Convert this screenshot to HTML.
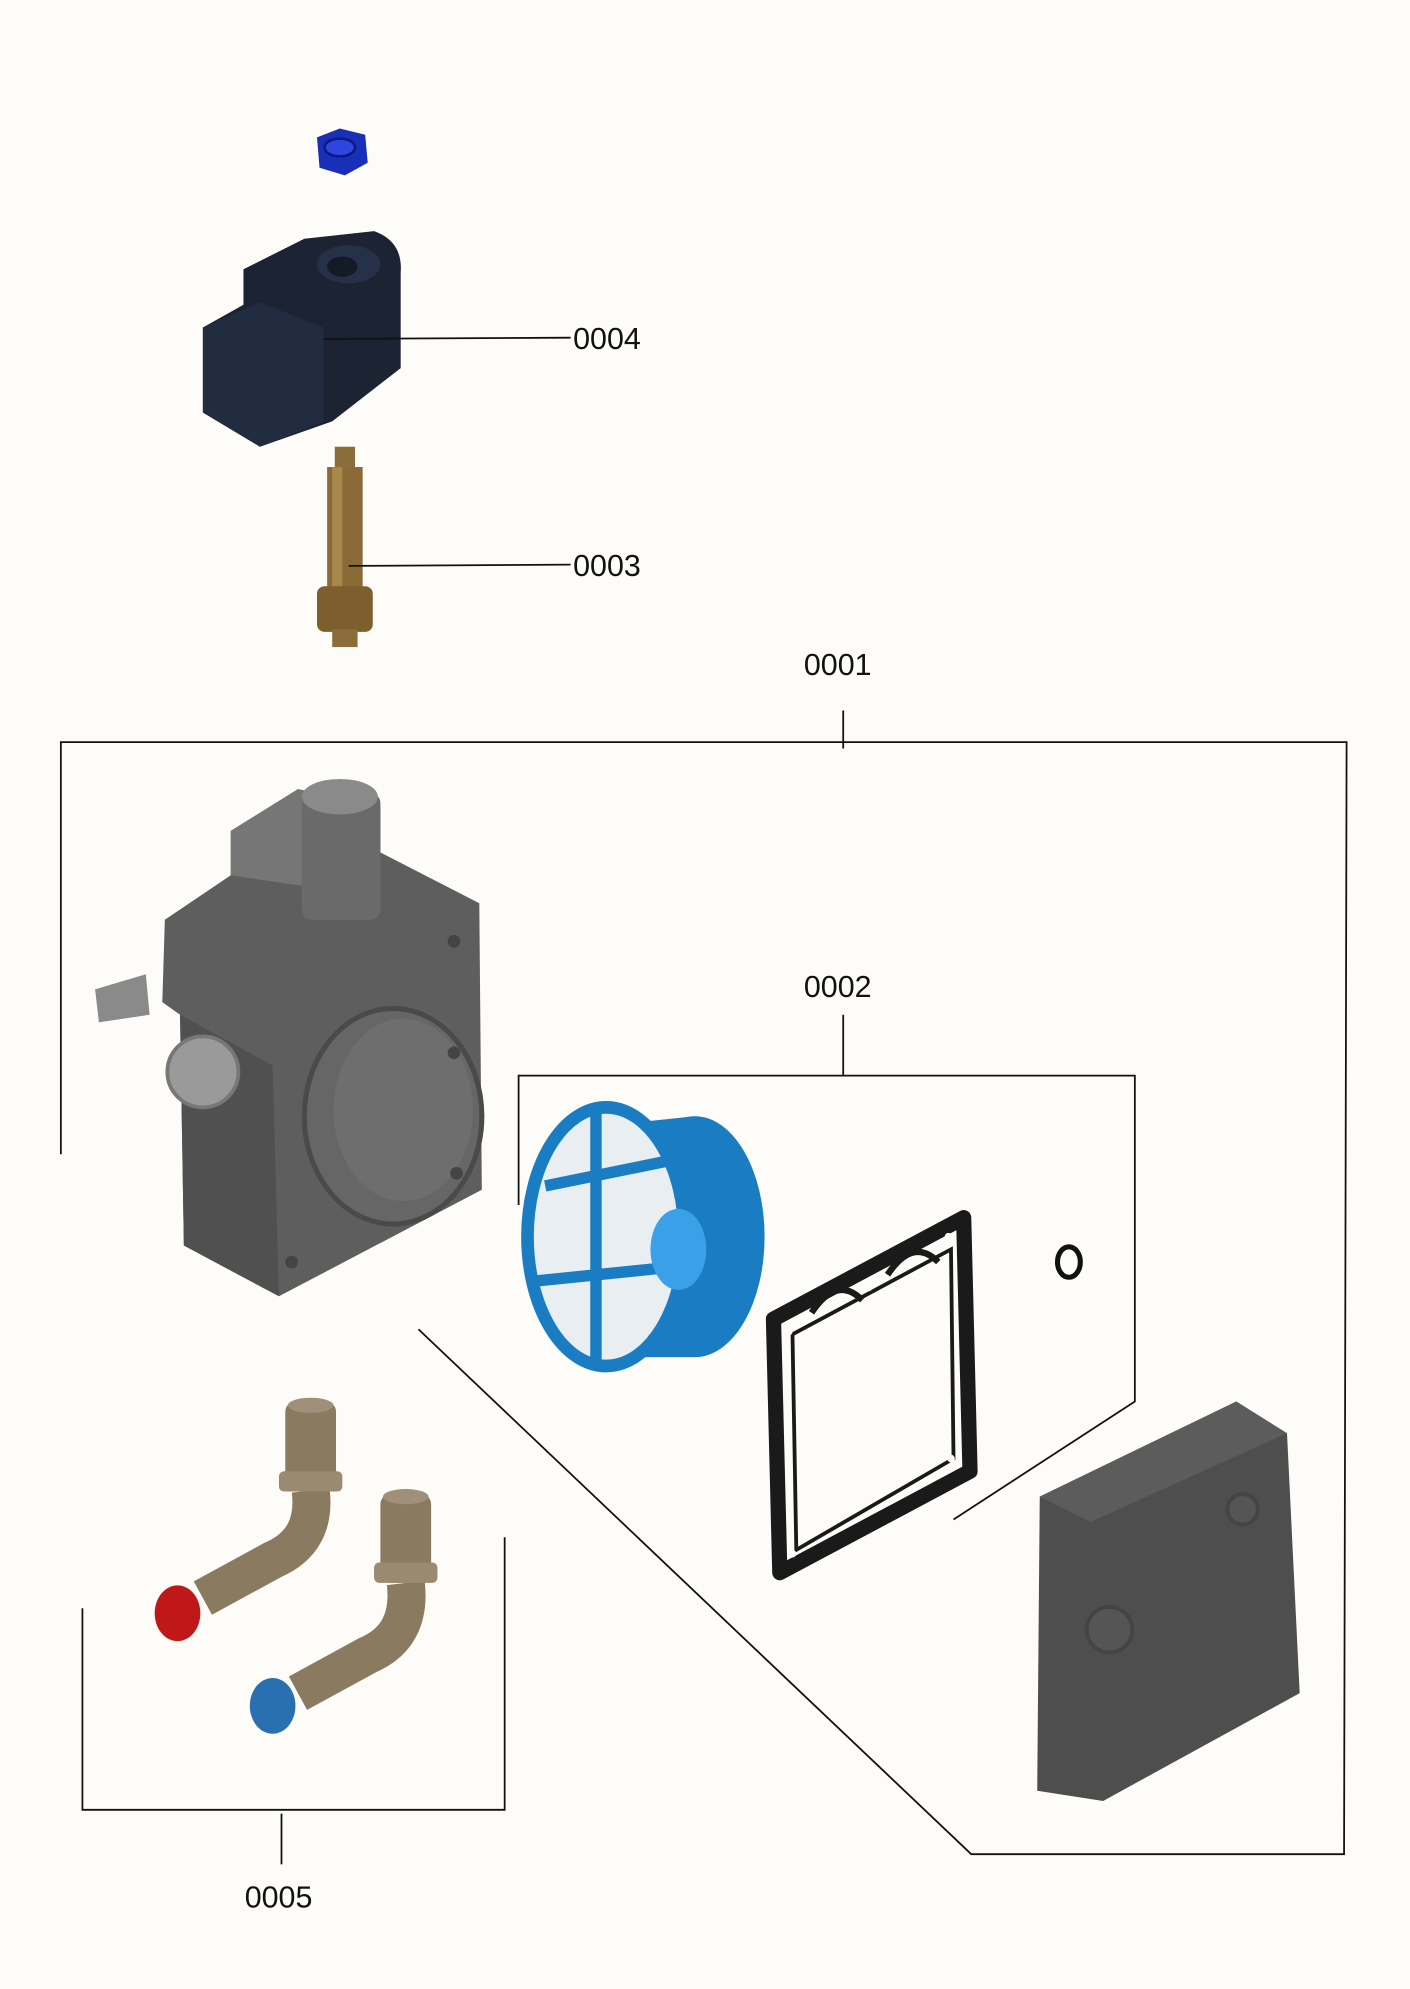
<!DOCTYPE html>
<html><head><meta charset="utf-8"><style>
html,body{margin:0;padding:0;background:#fdfcf8;}
svg{display:block;}
text{font-family:"Liberation Sans",sans-serif;font-size:24px;fill:#111;}
</style></head><body>
<svg width="1410" height="1989" viewBox="0 0 1112 1568" xmlns="http://www.w3.org/2000/svg">
<rect width="1112" height="1568" fill="#fdfcf8"/>
<!-- nut -->
<polygon points="250,108 268,101 288,106 290,128 272,138 252,132" fill="#1a2fb8"/>
<ellipse cx="268" cy="116" rx="12" ry="7" fill="#2d46e0" stroke="#0b1a80" stroke-width="2"/>
<!-- coil -->
<path d="M192,212 L240,188 L295,182 Q318,190 316,215 L316,290 L262,332 L205,352 L160,325 L160,258 L192,240 Z" fill="#1c2434"/>
<path d="M160,258 L205,238 L255,258 L255,332 L205,352 L160,325 Z" fill="#222c40"/>
<ellipse cx="275" cy="208" rx="25" ry="15" fill="#263049"/>
<ellipse cx="270" cy="210" rx="12" ry="8" fill="#141a26"/>
<!-- pin -->
<rect x="264" y="352" width="16" height="20" fill="#8a6d3a"/>
<rect x="258" y="368" width="28" height="95" fill="#8a6a36"/>
<rect x="262" y="368" width="8" height="95" fill="#a8874c"/>
<rect x="250" y="462" width="44" height="36" rx="6" fill="#7d5f2e"/>
<rect x="262" y="496" width="20" height="14" fill="#8a6d3a"/>
<!-- leaders -->
<g stroke="#111" stroke-width="1.4" fill="none">
<path d="M255,267 L450,266"/>
<path d="M275,446 L450,445"/>
<path d="M665,560 L665,590"/>
<path d="M48,910 L48,585 L1062,585 L1060,1462 L766,1462 L330,1048"/>
<path d="M665,800 L665,848"/>
<path d="M409,950 L409,848 L895,848 L895,1105 L752,1198"/>
<path d="M65,1268 L65,1427 L398,1427 L398,1212"/>
<path d="M222,1430 L222,1470"/>
</g>
<text x="452" y="275">0004</text>
<text x="452" y="454">0003</text>
<text x="634" y="532">0001</text>
<text x="634" y="786">0002</text>
<text x="193" y="1504">0005</text>
<!-- pump body -->
<path d="M182,655 L235,622 L300,635 L300,672 L378,712 L380,938 L220,1022 L145,982 L142,800 L128,790 L130,725 L182,690 Z" fill="#5e5e5e"/>
<path d="M142,800 L215,840 L220,1022 L145,982 Z" fill="#505050"/>
<path d="M182,655 L235,622 L300,640 L300,672 L250,700 L182,690 Z" fill="#767676"/>
<rect x="238" y="625" width="62" height="100" rx="8" fill="#6a6a6a"/>
<ellipse cx="268" cy="628" rx="30" ry="14" fill="#8a8a8a"/>
<ellipse cx="310" cy="880" rx="70" ry="85" fill="#666" stroke="#4a4a4a" stroke-width="4"/>
<ellipse cx="318" cy="875" rx="55" ry="72" fill="#6e6e6e"/>
<path d="M75,780 L115,768 L118,800 L78,806 Z" fill="#8a8a8a"/>
<circle cx="160" cy="845" r="28" fill="#9a9a9a" stroke="#777" stroke-width="3"/>
<circle cx="358" cy="742" r="5" fill="#444"/><circle cx="360" cy="925" r="5" fill="#444"/>
<circle cx="230" cy="995" r="5" fill="#444"/><circle cx="358" cy="830" r="5" fill="#444"/>
<!-- filter -->
<ellipse cx="548" cy="975" rx="55" ry="95" fill="#1a7dc4"/>
<path d="M500,885 L548,880 L548,1070 L495,1070 Z" fill="#1a7dc4"/>
<ellipse cx="478" cy="975" rx="62" ry="102" fill="#e8eef2" stroke="#1a7dc4" stroke-width="10"/>
<path d="M430,935 L528,915 M422,1010 L520,1000 M470,875 L470,1075" stroke="#1a7dc4" stroke-width="9"/>
<ellipse cx="535" cy="985" rx="22" ry="32" fill="#3aa0e8"/>
<!-- gasket -->
<path d="M610,1040 L760,960 L765,1160 L615,1240 Z" fill="none" stroke="#1a1a1a" stroke-width="12" stroke-linejoin="round"/>
<path d="M625,1052 L750,985 L752,1150 L628,1222 Z" fill="none" stroke="#1a1a1a" stroke-width="3"/>
<path d="M640,1035 Q660,1005 680,1025 M700,1005 Q720,975 740,995" stroke="#1a1a1a" stroke-width="5" fill="none"/>
<g fill="#fdfcf8"><circle cx="622" cy="1050" r="3"/><circle cx="748" cy="975" r="3"/><circle cx="750" cy="1150" r="3"/><circle cx="625" cy="1225" r="3"/><circle cx="685" cy="1015" r="3"/></g>
<!-- o-ring -->
<ellipse cx="843" cy="995" rx="9" ry="12" fill="none" stroke="#111" stroke-width="4"/>
<!-- cover -->
<path d="M820,1180 L975,1105 L1015,1130 L1025,1335 L870,1420 L818,1412 Z" fill="#4e4e4e"/>
<path d="M820,1180 L975,1105 L1015,1130 L860,1200 Z" fill="#5c5c5c"/>
<circle cx="875" cy="1285" r="18" fill="#555" stroke="#444" stroke-width="3"/>
<circle cx="980" cy="1190" r="12" fill="#555" stroke="#444" stroke-width="3"/>
<!-- fittings -->
<g>
<rect x="225" y="1105" width="40" height="70" rx="8" fill="#8a7a60"/>
<ellipse cx="245" cy="1108" rx="18" ry="6" fill="#a0907a"/>
<path d="M245,1175 Q250,1215 215,1230 L160,1260" stroke="#8a7a60" stroke-width="30" fill="none"/>
<ellipse cx="140" cy="1272" rx="18" ry="22" fill="#c01818"/>
<rect x="300" y="1178" width="40" height="70" rx="8" fill="#8a7a60"/>
<ellipse cx="320" cy="1180" rx="18" ry="6" fill="#a0907a"/>
<path d="M320,1248 Q325,1290 290,1305 L235,1335" stroke="#8a7a60" stroke-width="30" fill="none"/>
<ellipse cx="215" cy="1345" rx="18" ry="22" fill="#2a70b0"/>
<rect x="220" y="1160" width="50" height="16" rx="4" fill="#9a8a70"/>
<rect x="295" y="1232" width="50" height="16" rx="4" fill="#9a8a70"/>
</g>
</svg>
</body></html>
